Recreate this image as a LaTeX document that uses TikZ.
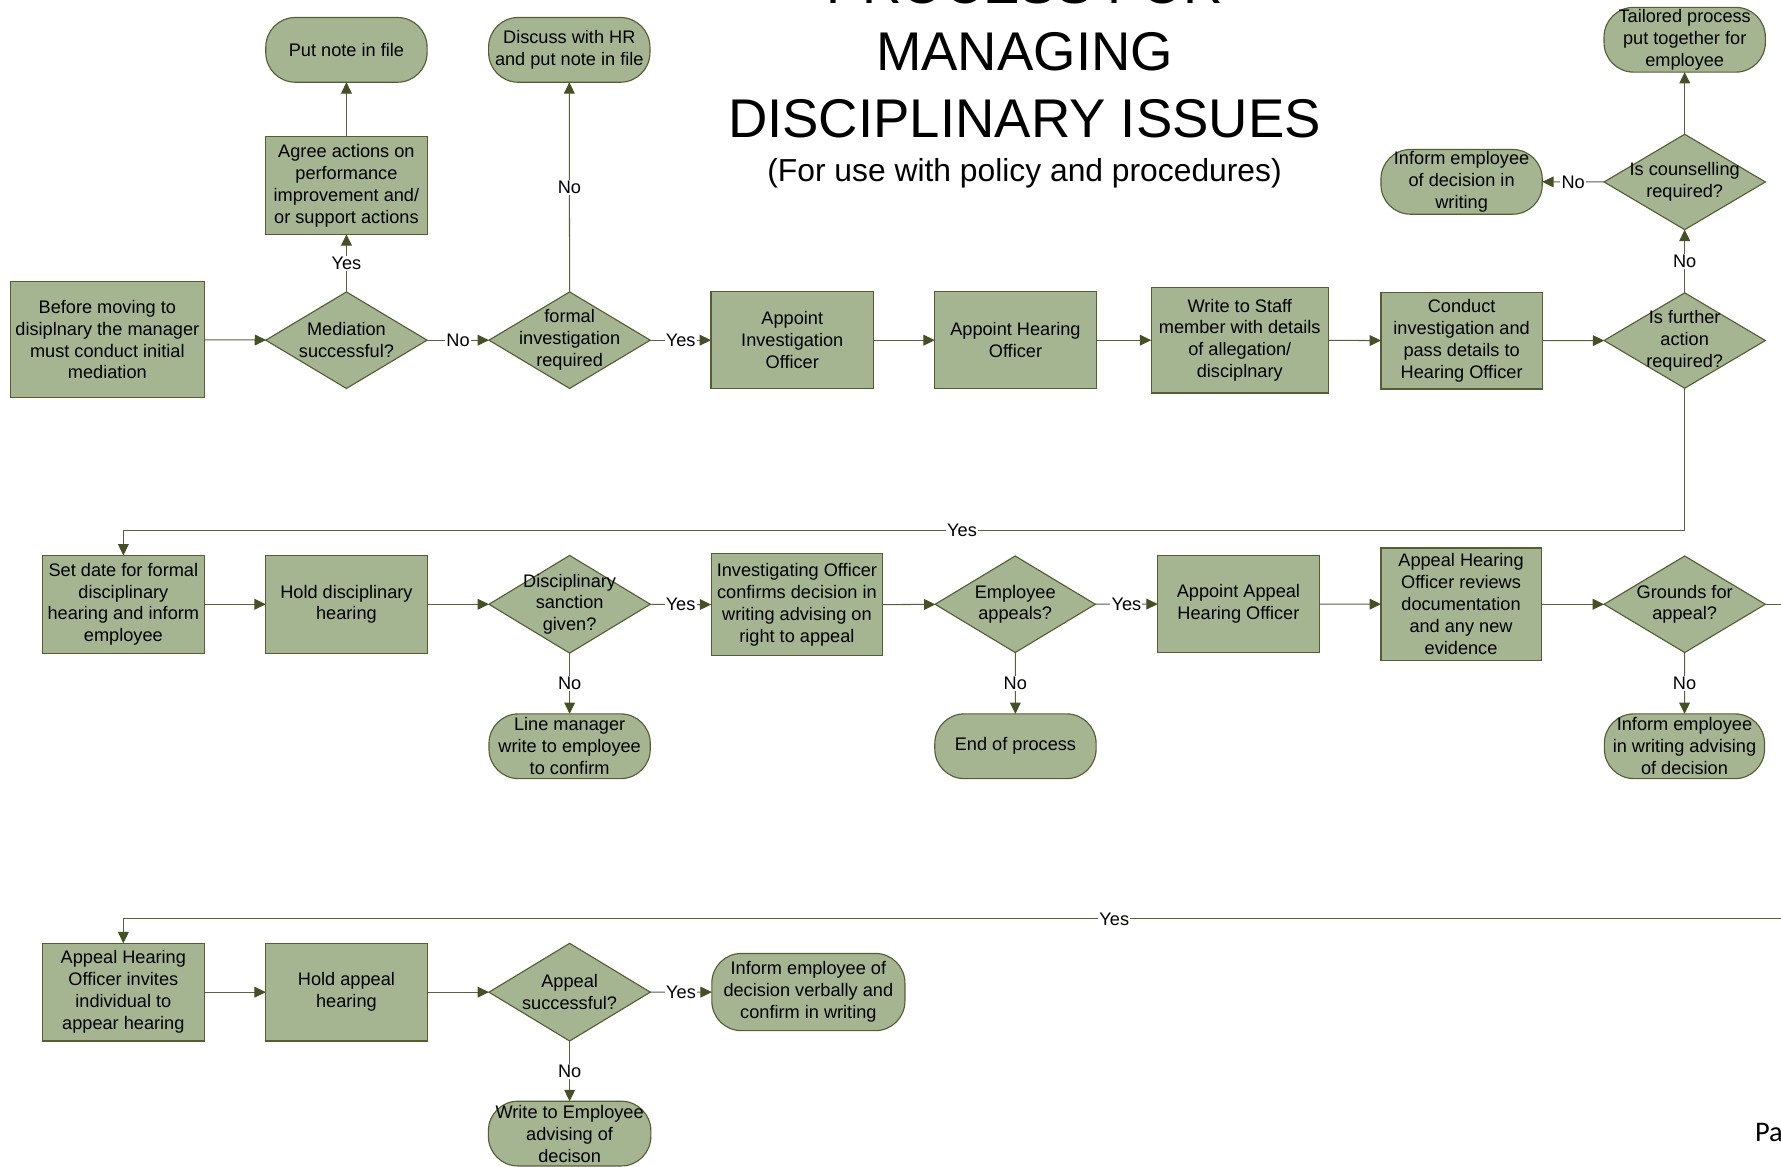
\documentclass[tikz,border=0pt]{standalone}
\usepackage{fontspec}
\setmainfont{Liberation Sans}
\newfontfamily\footfont{Carlito}
\usetikzlibrary{shapes.geometric,arrows.meta}
\definecolor{boxfill}{RGB}{165,181,146}
\definecolor{boxline}{RGB}{84,94,52}
\definecolor{connc}{RGB}{88,96,62}
\definecolor{tipc}{RGB}{70,80,38}
\begin{document}
\begin{tikzpicture}[x=1pt,y=-1pt,
  txt/.style={font=\fontsize{16}{19.3}\selectfont, align=center, text=black},
  shp/.style={draw=boxline, fill=boxfill, line width=1pt, inner sep=0pt, outer sep=0pt},
  procbox/.style n args={3}{shp, rectangle, minimum width=#1, minimum height=#2, label={[txt]center:{#3}}},
  decis/.style n args={3}{shp, diamond, minimum width=#1, minimum height=#2, label={[txt]center:{#3}}},
  termin/.style n args={3}{shp, rectangle, rounded corners=26pt, minimum width=#1, minimum height=#2, label={[txt]center:{#3}}},
  conn/.style={draw=connc, line width=0.9pt, -{Triangle[length=10pt,width=9.5pt,color=tipc]}},
  lab/.style={txt, fill=white, inner sep=1pt}]
\useasboundingbox (0,0) rectangle (1568,1027);

% title
\node[font=\fontsize{48}{59}\selectfont, anchor=base] (ti1) at (902,3) {PROCESS FOR};
\node[font=\fontsize{48}{59}\selectfont, anchor=base] (ti2) at (902,62) {MANAGING};
\node[font=\fontsize{48}{59}\selectfont, anchor=base] (ti3) at (902,121) {DISCIPLINARY ISSUES};
\node[font=\fontsize{28}{33}\selectfont, anchor=base] (ti4) at (902,160) {(For use with policy and procedures)};

% row 1
\node[procbox={171pt}{102pt}{Before moving to\\disiplnary the manager\\must conduct initial\\mediation}] (A) at (94.5,299) {};
\node[decis={142pt}{85pt}{Mediation\\successful?}] (D1) at (305,299.5) {};
\node[decis={142pt}{85pt}{formal\\investigation\\required}] (D2) at (501.5,299.5) {};
\node[procbox={143pt}{85pt}{Appoint\\Investigation\\Officer}] (B1) at (697.5,299.5) {};
\node[procbox={142pt}{85pt}{Appoint Hearing\\Officer}] (B2) at (894,299.5) {};
\node[procbox={156pt}{93pt}{Write to Staff\\member with details\\of allegation/\\disciplnary}] (B3) at (1091.5,299.5) {};
\node[procbox={142pt}{85pt}{Conduct\\investigation and\\pass details to\\Hearing Officer}] (B4) at (1286.8,300) {};
\node[decis={142pt}{84pt}{Is further\\action\\required?}] (D3) at (1483.2,299.8) {};
\node[decis={142pt}{84pt}{Is counselling\\required?}] (D4) at (1483.2,160.2) {};
\node[termin={142pt}{57pt}{Tailored process\\put together for\\employee}] (T1) at (1483.2,35) {};
\node[termin={142pt}{57pt}{Inform employee\\of decision in\\writing}] (T2) at (1286.8,160.1) {};
\node[procbox={142pt}{86pt}{Agree actions on\\performance\\improvement and/\\or support actions}] (R1) at (305,163.3) {};
\node[termin={142pt}{57pt}{Put note in file}] (T3) at (305,43.9) {};
\node[termin={142pt}{57pt}{Discuss with HR\\and put note in file}] (T4) at (501.2,43.9) {};

% row 2
\node[procbox={143pt}{86pt}{Set date for formal\\disciplinary\\hearing and inform\\employee}] (S1) at (108.6,532) {};
\node[procbox={142pt}{86pt}{Hold disciplinary\\hearing}] (S2) at (305,532) {};
\node[decis={142pt}{86pt}{Disciplinary\\sanction\\given?}] (D5) at (501.5,532) {};
\node[termin={142pt}{57pt}{Line manager\\write to employee\\to confirm}] (T5) at (501.5,657) {};
\node[procbox={151pt}{90pt}{Investigating Officer\\confirms decision in\\writing advising on\\right to appeal}] (B5) at (701.6,532.4) {};
\node[decis={141pt}{85pt}{Employee\\appeals?}] (D6) at (893.8,532) {};
\node[termin={142pt}{57pt}{End of process}] (T6) at (894,657) {};
\node[procbox={142pt}{85pt}{Appoint Appeal\\Hearing Officer}] (B6) at (1090.3,531.7) {};
\node[procbox={141pt}{99pt}{Appeal Hearing\\Officer reviews\\documentation\\and any new\\evidence}] (B7) at (1286.3,532) {};
\node[decis={142pt}{85pt}{Grounds for\\appeal?}] (D7) at (1483.2,532) {};
\node[termin={141pt}{57pt}{Inform employee\\in writing advising\\of decision}] (T7) at (1483,657) {};

% row 3
\node[procbox={143pt}{86pt}{Appeal Hearing\\Officer invites\\individual to\\appear hearing}] (U1) at (108.6,873.5) {};
\node[procbox={142pt}{86pt}{Hold appeal\\hearing}] (U2) at (305,873.5) {};
\node[decis={142pt}{86pt}{Appeal\\successful?}] (D8) at (501.5,873.5) {};
\node[termin={170pt}{68pt}{Inform employee of\\decision verbally and\\confirm in writing}] (T8) at (711.7,873.4) {};
\node[termin={143pt}{57pt}{Write to Employee\\advising of\\decison}] (T9) at (501.5,998) {};

% footer
\node[font=\footfont\fontsize{25}{30}\selectfont, anchor=base west, inner sep=0pt] (pg) at (1545,1004.6) {Pa};

% connectors row 1
\draw[conn] (A) -- (D1);
\draw[conn] (D1) -- node[lab] {No} (D2);
\draw[conn] (D2) -- node[lab] {Yes} (B1);
\draw[conn] (B1) -- (B2);
\draw[conn] (B2) -- (B3);
\draw[conn] (B3) -- (B4);
\draw[conn] (B4) -- (D3);
\draw[conn] (D1) -- node[lab] {Yes} (R1);
\draw[conn] (R1) -- (T3);
\draw[conn] (D2) -- node[lab] {No} (T4);
\draw[conn] (D3) -- node[lab] {No} (D4);
\draw[conn] (D4) -- node[lab] {No} (T2);
\draw[conn] (D4) -- (T1);

% loop to row 2
\coordinate (y1) at (0,467);
\draw[conn] (D3.south) -- (D3.south |- y1) -- (S1.north |- y1) -- (S1.north);
\node[lab] (ly1) at (847,467) {Yes};

% row 2
\draw[conn] (S1) -- (S2);
\draw[conn] (S2) -- (D5);
\draw[conn] (D5) -- node[lab] {Yes} (B5);
\draw[conn] (D5) -- node[lab] {No} (T5);
\draw[conn] (B5) -- (D6);
\draw[conn] (D6) -- node[lab] {Yes} (B6);
\draw[conn] (D6) -- node[lab] {No} (T6);
\draw[conn] (B6) -- (B7);
\draw[conn] (B7) -- (D7);
\draw[conn] (D7) -- node[lab] {No} (T7);

% loop to row 3
\coordinate (y2) at (1600,809);
\draw[conn] (D7.east) -- (D7.east -| y2) -- (y2) -- (U1.north |- y2) -- (U1.north);
\node[lab] (ly2) at (981,809) {Yes};

% row 3
\draw[conn] (U1) -- (U2);
\draw[conn] (U2) -- (D8);
\draw[conn] (D8) -- node[lab] {Yes} (T8);
\draw[conn] (D8) -- node[lab] {No} (T9);
\end{tikzpicture}
\end{document}
